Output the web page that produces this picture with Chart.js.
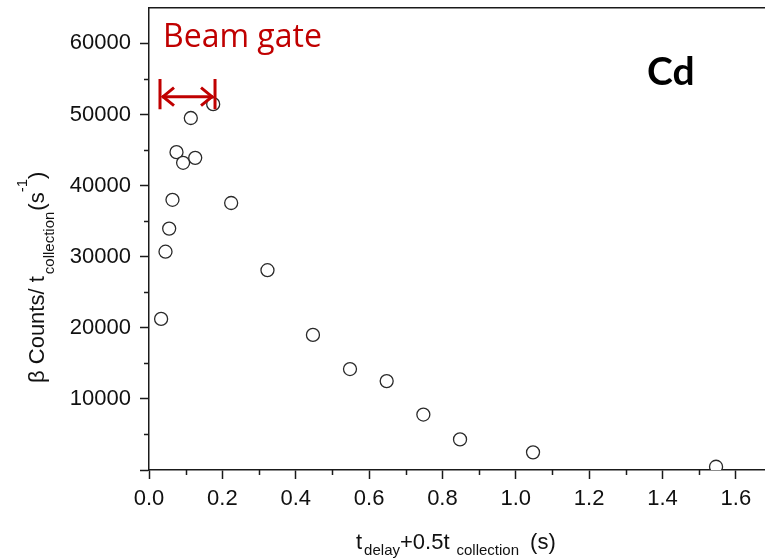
<!DOCTYPE html>
<html>
<head>
<meta charset="utf-8">
<script src="https://cdn.jsdelivr.net/npm/chart.js@4.4.0/dist/chart.umd.min.js"></script>
<style>
  html, body { margin: 0; padding: 0; background: #fff; overflow: hidden; }
  #chart { display: block; }
</style>
</head>
<body>
<!-- canvas is a bit wider than the window so the plot runs off the right edge like the original -->
<canvas id="chart" width="773" height="559"></canvas>
<script>
// Cd decay points
const delayTimes = [0.033, 0.045, 0.055, 0.064, 0.075, 0.093, 0.114, 0.126, 0.175, 0.224, 0.323, 0.447, 0.548, 0.648, 0.748, 0.848, 1.047, 1.546];
const betaRates = [21250, 30700, 33950, 38000, 44700, 43200, 49500, 43900, 51450, 37550, 28100, 19000, 14200, 12500, 7800, 4300, 2480, 460];

const xTickValues = [0, 0.2, 0.4, 0.6, 0.8, 1.0, 1.2, 1.4, 1.6];
const xTickLabels = ['0.0', '0.2', '0.4', '0.6', '0.8', '1.0', '1.2', '1.4', '1.6'];
const yTickValues = [0, 10000, 20000, 30000, 40000, 50000, 60000];
const yTickLabels = ['', '10000', '20000', '30000', '40000', '50000', '60000'];

// beam on window (s)
const beamGate = [0.03, 0.18];

const FONT = '"Liberation Sans", Arial, sans-serif';
const RED = '#c00000';
const AXIS = '#1a1a1a';

function drawRich(ctx, parts, x, y) {
    let cx = x;
    for (const p of parts) {
        ctx.font = `${p.size}px ${FONT}`;
        ctx.fillText(p.t, cx, y + (p.dy || 0));
        cx += ctx.measureText(p.t).width + (p.gap || 0);
    }
}

const decorations = {
    id: 'decorations',
    afterDraw(chart) {
        const { ctx, chartArea: a, scales: { x, y } } = chart;
        ctx.save();

        // top frame + minor ticks
        ctx.strokeStyle = AXIS;
        ctx.lineWidth = 1.5;
        ctx.beginPath();
        ctx.moveTo(a.left, a.top);
        ctx.lineTo(a.right, a.top);
        for (let v = 5000; v < 65000; v += 10000) {
            const py = Math.round(y.getPixelForValue(v)) + 0.5;
            ctx.moveTo(a.left - 5, py);
            ctx.lineTo(a.left, py);
        }
        for (let v = 0.1; v < x.max; v += 0.2) {
            const px = Math.round(x.getPixelForValue(v)) + 0.5;
            ctx.moveTo(px, a.bottom);
            ctx.lineTo(px, a.bottom + 5);
        }
        ctx.stroke();

        // beam gate arrow
        const x0 = x.getPixelForValue(beamGate[0]);
        const x1 = x.getPixelForValue(beamGate[1]);
        const yTop = y.getPixelForValue(55000);
        const yBot = y.getPixelForValue(50750);
        const yMid = y.getPixelForValue(52500);
        ctx.strokeStyle = RED;
        ctx.lineWidth = 3;
        ctx.beginPath();
        ctx.moveTo(x0, yTop); ctx.lineTo(x0, yBot);
        ctx.moveTo(x1, yTop); ctx.lineTo(x1, yBot);
        ctx.moveTo(x0 + 2, yMid); ctx.lineTo(x1 - 2, yMid);
        ctx.stroke();
        ctx.lineJoin = 'miter';
        ctx.beginPath();
        ctx.moveTo(x0 + 14, yMid - 9); ctx.lineTo(x0 + 3, yMid); ctx.lineTo(x0 + 14, yMid + 9);
        ctx.moveTo(x1 - 14, yMid - 9); ctx.lineTo(x1 - 3, yMid); ctx.lineTo(x1 - 14, yMid + 9);
        ctx.stroke();

        ctx.fillStyle = RED;
        ctx.font = '32px "Open Sans", Lato, sans-serif';
        ctx.textBaseline = 'alphabetic';
        ctx.fillText('Beam gate', a.left + 14, 47);

        ctx.fillStyle = '#000';
        ctx.font = 'bold 39px Lato, "Open Sans", sans-serif';
        ctx.fillText('Cd', 647, 85);

        // axis titles with sub/superscripts
        ctx.fillStyle = '#111';
        drawRich(ctx, [
            { t: 't', size: 22, gap: 2 },
            { t: 'delay', size: 15, dy: 6 },
            { t: '+0.5t', size: 22, gap: 7 },
            { t: 'collection', size: 15, dy: 6, gap: 11 },
            { t: '(s)', size: 22 }
        ], 356, 549);

        ctx.translate(44, 383);
        ctx.rotate(-Math.PI / 2);
        drawRich(ctx, [
            { t: '\u03b2 Counts/ t', size: 22, gap: 2 },
            { t: 'collection', size: 15, dy: 10, gap: 1 },
            { t: '(s', size: 22 },
            { t: '-1', size: 15, dy: -17 },
            { t: ')', size: 22 }
        ], 0, 0);
        ctx.restore();
    }
};

new Chart(document.getElementById('chart'), {
    type: 'scatter',
    data: {
        datasets: [{
            data: delayTimes.map((t, i) => ({ x: t, y: betaRates[i] })),
            pointRadius: 6.5,
            pointBorderWidth: 1.3,
            pointBorderColor: '#2a2a2a',
            pointBackgroundColor: '#fff'
        }]
    },
    options: {
        responsive: false,
        animation: false,
        layout: { padding: { top: 5, right: 0, left: 0, bottom: 0 } },
        plugins: { legend: { display: false }, tooltip: { enabled: false } },
        scales: {
            x: {
                type: 'linear',
                bounds: 'data',
                min: 0,
                max: 1.68,
                afterBuildTicks: s => { s.ticks = xTickValues.map(v => ({ value: v })); },
                afterFit: s => { s.height = 89; s.paddingLeft = 0; s.paddingRight = 0; },
                border: { color: AXIS, width: 1.5 },
                grid: { drawOnChartArea: false, tickLength: 9, tickColor: AXIS, tickWidth: 1.5 },
                ticks: {
                    autoSkip: false,
                    maxRotation: 0,
                    padding: 7,
                    color: '#111',
                    font: { family: FONT, size: 22 },
                    callback: (v, i) => xTickLabels[i]
                }
            },
            y: {
                bounds: 'data',
                min: 0,
                max: 65000,
                afterBuildTicks: s => { s.ticks = yTickValues.map(v => ({ value: v })); },
                afterFit: s => { s.width = 149; s.paddingTop = 0; s.paddingBottom = 0; },
                border: { color: AXIS, width: 1.5 },
                grid: { drawOnChartArea: false, tickLength: 9, tickColor: AXIS, tickWidth: 1.5 },
                ticks: {
                    autoSkip: false,
                    padding: 9,
                    color: '#111',
                    font: { family: FONT, size: 22 },
                    callback: (v, i) => yTickLabels[i]
                }
            }
        }
    },
    plugins: [decorations]
});
</script>
</body>
</html>
